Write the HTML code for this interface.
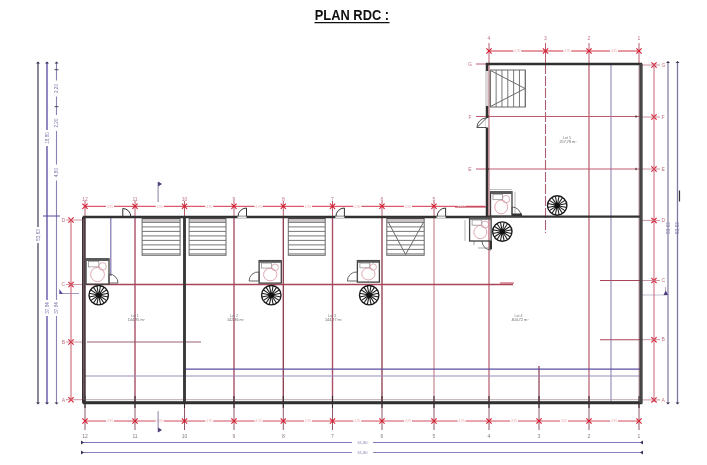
<!DOCTYPE html>
<html><head><meta charset="utf-8"><style>
html,body{margin:0;padding:0;background:#fff;width:707px;height:465px;overflow:hidden}
svg{position:absolute;left:0;top:0}
</style></head><body>
<svg width="707" height="465" viewBox="0 0 707 465" font-family="Liberation Sans, sans-serif">
<g style="filter:blur(0.3px)">
<line x1="38" y1="62" x2="38" y2="403.5" stroke="#5a5670" stroke-width="1.4" />
<line x1="47" y1="62" x2="47" y2="403.5" stroke="#5848a0" stroke-width="1.3" />
<line x1="56.5" y1="62" x2="56.5" y2="403.5" stroke="#8a80b4" stroke-width="1.1" />
<path d="M36 63.5 L38 61.5 L40 63.5 Z" fill="#3a3050"/>
<path d="M36 402.5 L38 404.5 L40 402.5 Z" fill="#3a3050"/>
<path d="M45 63.5 L47 61.5 L49 63.5 Z" fill="#3a3050"/>
<path d="M45 402.5 L47 404.5 L49 402.5 Z" fill="#3a3050"/>
<path d="M54.5 63.5 L56.5 61.5 L58.5 63.5 Z" fill="#3a3050"/>
<path d="M54.5 402.5 L56.5 404.5 L58.5 402.5 Z" fill="#3a3050"/>
<line x1="43" y1="216" x2="60" y2="216" stroke="#5848a0" stroke-width="1" />
<line x1="54.5" y1="69.7" x2="58.5" y2="69.7" stroke="#4a4060" stroke-width="1" />
<line x1="54.5" y1="106.7" x2="58.5" y2="106.7" stroke="#4a4060" stroke-width="1" />
<line x1="54.5" y1="128.3" x2="58.5" y2="128.3" stroke="#4a4060" stroke-width="1" />
<rect x="35.5" y="227" width="5" height="16" fill="#fff"/>
<text x="38" y="235" font-size="4.6" fill="#7a70a8" text-anchor="middle" transform="rotate(-90 38 235)" dominant-baseline="central">53,63</text>
<rect x="44.5" y="130" width="5" height="16" fill="#fff"/>
<text x="47" y="138" font-size="4.6" fill="#7a70a8" text-anchor="middle" transform="rotate(-90 47 138)" dominant-baseline="central">18,80</text>
<rect x="44.5" y="300" width="5" height="16" fill="#fff"/>
<text x="47" y="308" font-size="4.6" fill="#7a70a8" text-anchor="middle" transform="rotate(-90 47 308)" dominant-baseline="central">37,84</text>
<rect x="54.0" y="300" width="5" height="16" fill="#fff"/>
<text x="56.5" y="308" font-size="4.6" fill="#7a70a8" text-anchor="middle" transform="rotate(-90 56.5 308)" dominant-baseline="central">37,84</text>
<rect x="54.0" y="164.5" width="5" height="16" fill="#fff"/>
<text x="56.5" y="172.5" font-size="4.6" fill="#7a70a8" text-anchor="middle" transform="rotate(-90 56.5 172.5)" dominant-baseline="central">4,80</text>
<rect x="54.0" y="80.5" width="5" height="16" fill="#fff"/>
<text x="56.5" y="88.5" font-size="4.6" fill="#7a70a8" text-anchor="middle" transform="rotate(-90 56.5 88.5)" dominant-baseline="central">2,20</text>
<rect x="54.0" y="115" width="5" height="16" fill="#fff"/>
<text x="56.5" y="123" font-size="4.6" fill="#7a70a8" text-anchor="middle" transform="rotate(-90 56.5 123)" dominant-baseline="central">2,20</text>
<rect x="665.5" y="220" width="5" height="16" fill="#fff"/>
<text x="668" y="228" font-size="4.6" fill="#7a70a8" text-anchor="middle" transform="rotate(-90 668 228)" dominant-baseline="central">53,63</text>
<rect x="675.0" y="220" width="5" height="16" fill="#fff"/>
<text x="677.5" y="228" font-size="4.6" fill="#7a70a8" text-anchor="middle" transform="rotate(-90 677.5 228)" dominant-baseline="central">53,63</text>
<line x1="59.5" y1="293.5" x2="79" y2="293.5" stroke="#8a80b0" stroke-width="0.8" />
<path d="M59.3 289 L59.3 294 L63 294 Z" fill="#5848a0"/>
<line x1="668" y1="62" x2="668" y2="403.5" stroke="#8a84a8" stroke-width="1.3" />
<line x1="677.5" y1="62" x2="677.5" y2="403.5" stroke="#8078a4" stroke-width="1.3" />
<path d="M666 63 L668 61 L670 63 Z" fill="#3a3050"/>
<path d="M666 402.5 L668 404.5 L670 402.5 Z" fill="#3a3050"/>
<path d="M675.5 63 L677.5 61 L679.5 63 Z" fill="#3a3050"/>
<path d="M675.5 402.5 L677.5 404.5 L679.5 402.5 Z" fill="#3a3050"/>
<line x1="679.5" y1="190.5" x2="679.5" y2="201.5" stroke="#333" stroke-width="1.2" />
<line x1="665.5" y1="287" x2="665.5" y2="294" stroke="#a098b8" stroke-width="0.8" />
<line x1="641" y1="295" x2="668" y2="295" stroke="#a8a0b8" stroke-width="0.7" />
<path d="M663.5 295 L665.8 290.5 L668 295 Z" fill="#4a3a78"/>
<line x1="654" y1="63" x2="654" y2="402" stroke="#c86474" stroke-width="1" />
<line x1="651.4" y1="62.4" x2="656.6" y2="67.6" stroke="#d81c30" stroke-width="1.1" />
<line x1="651.4" y1="67.6" x2="656.6" y2="62.4" stroke="#d81c30" stroke-width="1.1" />
<line x1="641" y1="65" x2="660" y2="65" stroke="#c07a88" stroke-width="0.8" />
<text x="661.5" y="66.7" font-size="5" fill="#c07080" text-anchor="start" >G</text>
<line x1="651.4" y1="114.4" x2="656.6" y2="119.6" stroke="#d81c30" stroke-width="1.1" />
<line x1="651.4" y1="119.6" x2="656.6" y2="114.4" stroke="#d81c30" stroke-width="1.1" />
<line x1="641" y1="117" x2="660" y2="117" stroke="#c07a88" stroke-width="0.8" />
<text x="661.5" y="118.7" font-size="5" fill="#c07080" text-anchor="start" >F</text>
<line x1="651.4" y1="166.4" x2="656.6" y2="171.6" stroke="#d81c30" stroke-width="1.1" />
<line x1="651.4" y1="171.6" x2="656.6" y2="166.4" stroke="#d81c30" stroke-width="1.1" />
<line x1="641" y1="169" x2="660" y2="169" stroke="#c07a88" stroke-width="0.8" />
<text x="661.5" y="170.7" font-size="5" fill="#c07080" text-anchor="start" >E</text>
<line x1="651.4" y1="217.8" x2="656.6" y2="223.0" stroke="#d81c30" stroke-width="1.1" />
<line x1="651.4" y1="223.0" x2="656.6" y2="217.8" stroke="#d81c30" stroke-width="1.1" />
<line x1="641" y1="220.4" x2="660" y2="220.4" stroke="#c07a88" stroke-width="0.8" />
<text x="661.5" y="222.1" font-size="5" fill="#c07080" text-anchor="start" >D</text>
<line x1="651.4" y1="277.9" x2="656.6" y2="283.1" stroke="#d81c30" stroke-width="1.1" />
<line x1="651.4" y1="283.1" x2="656.6" y2="277.9" stroke="#d81c30" stroke-width="1.1" />
<line x1="641" y1="280.5" x2="660" y2="280.5" stroke="#c07a88" stroke-width="0.8" />
<text x="661.5" y="282.2" font-size="5" fill="#c07080" text-anchor="start" >C</text>
<line x1="651.4" y1="337.09999999999997" x2="656.6" y2="342.3" stroke="#d81c30" stroke-width="1.1" />
<line x1="651.4" y1="342.3" x2="656.6" y2="337.09999999999997" stroke="#d81c30" stroke-width="1.1" />
<line x1="641" y1="339.7" x2="660" y2="339.7" stroke="#c07a88" stroke-width="0.8" />
<text x="661.5" y="341.4" font-size="5" fill="#c07080" text-anchor="start" >B</text>
<line x1="651.4" y1="397.29999999999995" x2="656.6" y2="402.5" stroke="#d81c30" stroke-width="1.1" />
<line x1="651.4" y1="402.5" x2="656.6" y2="397.29999999999995" stroke="#d81c30" stroke-width="1.1" />
<line x1="641" y1="399.9" x2="660" y2="399.9" stroke="#c07a88" stroke-width="0.8" />
<text x="661.5" y="401.59999999999997" font-size="5" fill="#c07080" text-anchor="start" >A</text>
<line x1="82" y1="442.5" x2="642" y2="442.5" stroke="#8078b8" stroke-width="1" />
<path d="M81 440.5 L84 442.5 L81 444.5 Z" fill="#3a3060"/>
<path d="M643 440.5 L640 442.5 L643 444.5 Z" fill="#3a3060"/>
<line x1="82" y1="452.5" x2="642" y2="452.5" stroke="#8a82bc" stroke-width="1" />
<path d="M81 450.5 L84 452.5 L81 454.5 Z" fill="#3a3060"/>
<path d="M643 450.5 L640 452.5 L643 454.5 Z" fill="#3a3060"/>
<rect x="352" y="440.0" width="21" height="5" fill="#fff"/>
<text x="362.5" y="443.9" font-size="4" fill="#8a80b0" text-anchor="middle" >61,80</text>
<rect x="352" y="450.0" width="21" height="5" fill="#fff"/>
<text x="362.5" y="453.9" font-size="4" fill="#8a80b0" text-anchor="middle" >61,80</text>
<line x1="85" y1="421" x2="639" y2="421" stroke="#d24c5c" stroke-width="1" />
<line x1="85" y1="402" x2="85" y2="430" stroke="#905868" stroke-width="1" />
<line x1="82.4" y1="418.4" x2="87.6" y2="423.6" stroke="#d81c30" stroke-width="1.1" />
<line x1="82.4" y1="423.6" x2="87.6" y2="418.4" stroke="#d81c30" stroke-width="1.1" />
<text x="85" y="437.5" font-size="5" fill="#8a7a80" text-anchor="middle" >12</text>
<line x1="135" y1="402" x2="135" y2="430" stroke="#905868" stroke-width="1" />
<line x1="132.4" y1="418.4" x2="137.6" y2="423.6" stroke="#d81c30" stroke-width="1.1" />
<line x1="132.4" y1="423.6" x2="137.6" y2="418.4" stroke="#d81c30" stroke-width="1.1" />
<text x="135" y="437.5" font-size="5" fill="#8a7a80" text-anchor="middle" >11</text>
<line x1="184.5" y1="402" x2="184.5" y2="430" stroke="#905868" stroke-width="1" />
<line x1="181.9" y1="418.4" x2="187.1" y2="423.6" stroke="#d81c30" stroke-width="1.1" />
<line x1="181.9" y1="423.6" x2="187.1" y2="418.4" stroke="#d81c30" stroke-width="1.1" />
<text x="184.5" y="437.5" font-size="5" fill="#8a7a80" text-anchor="middle" >10</text>
<line x1="234" y1="402" x2="234" y2="430" stroke="#905868" stroke-width="1" />
<line x1="231.4" y1="418.4" x2="236.6" y2="423.6" stroke="#d81c30" stroke-width="1.1" />
<line x1="231.4" y1="423.6" x2="236.6" y2="418.4" stroke="#d81c30" stroke-width="1.1" />
<text x="234" y="437.5" font-size="5" fill="#8a7a80" text-anchor="middle" >9</text>
<line x1="283.3" y1="402" x2="283.3" y2="430" stroke="#905868" stroke-width="1" />
<line x1="280.7" y1="418.4" x2="285.90000000000003" y2="423.6" stroke="#d81c30" stroke-width="1.1" />
<line x1="280.7" y1="423.6" x2="285.90000000000003" y2="418.4" stroke="#d81c30" stroke-width="1.1" />
<text x="283.3" y="437.5" font-size="5" fill="#8a7a80" text-anchor="middle" >8</text>
<line x1="332.5" y1="402" x2="332.5" y2="430" stroke="#905868" stroke-width="1" />
<line x1="329.9" y1="418.4" x2="335.1" y2="423.6" stroke="#d81c30" stroke-width="1.1" />
<line x1="329.9" y1="423.6" x2="335.1" y2="418.4" stroke="#d81c30" stroke-width="1.1" />
<text x="332.5" y="437.5" font-size="5" fill="#8a7a80" text-anchor="middle" >7</text>
<line x1="382" y1="402" x2="382" y2="430" stroke="#905868" stroke-width="1" />
<line x1="379.4" y1="418.4" x2="384.6" y2="423.6" stroke="#d81c30" stroke-width="1.1" />
<line x1="379.4" y1="423.6" x2="384.6" y2="418.4" stroke="#d81c30" stroke-width="1.1" />
<text x="382" y="437.5" font-size="5" fill="#8a7a80" text-anchor="middle" >6</text>
<line x1="434" y1="402" x2="434" y2="430" stroke="#905868" stroke-width="1" />
<line x1="431.4" y1="418.4" x2="436.6" y2="423.6" stroke="#d81c30" stroke-width="1.1" />
<line x1="431.4" y1="423.6" x2="436.6" y2="418.4" stroke="#d81c30" stroke-width="1.1" />
<text x="434" y="437.5" font-size="5" fill="#8a7a80" text-anchor="middle" >5</text>
<line x1="489" y1="402" x2="489" y2="430" stroke="#905868" stroke-width="1" />
<line x1="486.4" y1="418.4" x2="491.6" y2="423.6" stroke="#d81c30" stroke-width="1.1" />
<line x1="486.4" y1="423.6" x2="491.6" y2="418.4" stroke="#d81c30" stroke-width="1.1" />
<text x="489" y="437.5" font-size="5" fill="#8a7a80" text-anchor="middle" >4</text>
<line x1="539" y1="402" x2="539" y2="430" stroke="#905868" stroke-width="1" />
<line x1="536.4" y1="418.4" x2="541.6" y2="423.6" stroke="#d81c30" stroke-width="1.1" />
<line x1="536.4" y1="423.6" x2="541.6" y2="418.4" stroke="#d81c30" stroke-width="1.1" />
<text x="539" y="437.5" font-size="5" fill="#8a7a80" text-anchor="middle" >3</text>
<line x1="589" y1="402" x2="589" y2="430" stroke="#905868" stroke-width="1" />
<line x1="586.4" y1="418.4" x2="591.6" y2="423.6" stroke="#d81c30" stroke-width="1.1" />
<line x1="586.4" y1="423.6" x2="591.6" y2="418.4" stroke="#d81c30" stroke-width="1.1" />
<text x="589" y="437.5" font-size="5" fill="#8a7a80" text-anchor="middle" >2</text>
<line x1="639" y1="402" x2="639" y2="430" stroke="#905868" stroke-width="1" />
<line x1="636.4" y1="418.4" x2="641.6" y2="423.6" stroke="#d81c30" stroke-width="1.1" />
<line x1="636.4" y1="423.6" x2="641.6" y2="418.4" stroke="#d81c30" stroke-width="1.1" />
<text x="639" y="437.5" font-size="5" fill="#8a7a80" text-anchor="middle" >1</text>
<rect x="106.0" y="419.5" width="8" height="3" fill="#fff"/>
<text x="110.0" y="422.3" font-size="3.2" fill="#e8a8b0" text-anchor="middle" >4,95</text>
<rect x="155.75" y="419.5" width="8" height="3" fill="#fff"/>
<text x="159.75" y="422.3" font-size="3.2" fill="#e8a8b0" text-anchor="middle" >4,95</text>
<rect x="205.25" y="419.5" width="8" height="3" fill="#fff"/>
<text x="209.25" y="422.3" font-size="3.2" fill="#e8a8b0" text-anchor="middle" >4,95</text>
<rect x="254.64999999999998" y="419.5" width="8" height="3" fill="#fff"/>
<text x="258.65" y="422.3" font-size="3.2" fill="#e8a8b0" text-anchor="middle" >4,95</text>
<rect x="303.9" y="419.5" width="8" height="3" fill="#fff"/>
<text x="307.9" y="422.3" font-size="3.2" fill="#e8a8b0" text-anchor="middle" >4,95</text>
<rect x="353.25" y="419.5" width="8" height="3" fill="#fff"/>
<text x="357.25" y="422.3" font-size="3.2" fill="#e8a8b0" text-anchor="middle" >4,95</text>
<rect x="404.0" y="419.5" width="8" height="3" fill="#fff"/>
<text x="408.0" y="422.3" font-size="3.2" fill="#e8a8b0" text-anchor="middle" >4,95</text>
<rect x="457.5" y="419.5" width="8" height="3" fill="#fff"/>
<text x="461.5" y="422.3" font-size="3.2" fill="#e8a8b0" text-anchor="middle" >4,95</text>
<rect x="510.0" y="419.5" width="8" height="3" fill="#fff"/>
<text x="514.0" y="422.3" font-size="3.2" fill="#e8a8b0" text-anchor="middle" >4,95</text>
<rect x="560.0" y="419.5" width="8" height="3" fill="#fff"/>
<text x="564.0" y="422.3" font-size="3.2" fill="#e8a8b0" text-anchor="middle" >4,95</text>
<rect x="610.0" y="419.5" width="8" height="3" fill="#fff"/>
<text x="614.0" y="422.3" font-size="3.2" fill="#e8a8b0" text-anchor="middle" >4,95</text>
<line x1="158.1" y1="411.2" x2="158.1" y2="432" stroke="#8a80a8" stroke-width="1" />
<path d="M158.1 432.5 L162 430 L158.1 427.5 Z" fill="#4a3a78"/>
<line x1="85" y1="206.3" x2="485" y2="206.3" stroke="#d03446" stroke-width="1" />
<line x1="85" y1="201" x2="85" y2="217" stroke="#b04a5e" stroke-width="0.9" />
<line x1="82.4" y1="203.70000000000002" x2="87.6" y2="208.9" stroke="#d81c30" stroke-width="1.1" />
<line x1="82.4" y1="208.9" x2="87.6" y2="203.70000000000002" stroke="#d81c30" stroke-width="1.1" />
<text x="85" y="200.5" font-size="5" fill="#c07080" text-anchor="middle" >12</text>
<line x1="135" y1="201" x2="135" y2="217" stroke="#b04a5e" stroke-width="0.9" />
<line x1="132.4" y1="203.70000000000002" x2="137.6" y2="208.9" stroke="#d81c30" stroke-width="1.1" />
<line x1="132.4" y1="208.9" x2="137.6" y2="203.70000000000002" stroke="#d81c30" stroke-width="1.1" />
<text x="135" y="200.5" font-size="5" fill="#c07080" text-anchor="middle" >11</text>
<line x1="184.5" y1="201" x2="184.5" y2="217" stroke="#b04a5e" stroke-width="0.9" />
<line x1="181.9" y1="203.70000000000002" x2="187.1" y2="208.9" stroke="#d81c30" stroke-width="1.1" />
<line x1="181.9" y1="208.9" x2="187.1" y2="203.70000000000002" stroke="#d81c30" stroke-width="1.1" />
<text x="184.5" y="200.5" font-size="5" fill="#c07080" text-anchor="middle" >10</text>
<line x1="234" y1="201" x2="234" y2="217" stroke="#b04a5e" stroke-width="0.9" />
<line x1="231.4" y1="203.70000000000002" x2="236.6" y2="208.9" stroke="#d81c30" stroke-width="1.1" />
<line x1="231.4" y1="208.9" x2="236.6" y2="203.70000000000002" stroke="#d81c30" stroke-width="1.1" />
<text x="234" y="200.5" font-size="5" fill="#c07080" text-anchor="middle" >9</text>
<line x1="283.3" y1="201" x2="283.3" y2="217" stroke="#b04a5e" stroke-width="0.9" />
<line x1="280.7" y1="203.70000000000002" x2="285.90000000000003" y2="208.9" stroke="#d81c30" stroke-width="1.1" />
<line x1="280.7" y1="208.9" x2="285.90000000000003" y2="203.70000000000002" stroke="#d81c30" stroke-width="1.1" />
<text x="283.3" y="200.5" font-size="5" fill="#c07080" text-anchor="middle" >8</text>
<line x1="332.5" y1="201" x2="332.5" y2="217" stroke="#b04a5e" stroke-width="0.9" />
<line x1="329.9" y1="203.70000000000002" x2="335.1" y2="208.9" stroke="#d81c30" stroke-width="1.1" />
<line x1="329.9" y1="208.9" x2="335.1" y2="203.70000000000002" stroke="#d81c30" stroke-width="1.1" />
<text x="332.5" y="200.5" font-size="5" fill="#c07080" text-anchor="middle" >7</text>
<line x1="382" y1="201" x2="382" y2="217" stroke="#b04a5e" stroke-width="0.9" />
<line x1="379.4" y1="203.70000000000002" x2="384.6" y2="208.9" stroke="#d81c30" stroke-width="1.1" />
<line x1="379.4" y1="208.9" x2="384.6" y2="203.70000000000002" stroke="#d81c30" stroke-width="1.1" />
<text x="382" y="200.5" font-size="5" fill="#c07080" text-anchor="middle" >6</text>
<line x1="434" y1="201" x2="434" y2="217" stroke="#b04a5e" stroke-width="0.9" />
<line x1="431.4" y1="203.70000000000002" x2="436.6" y2="208.9" stroke="#d81c30" stroke-width="1.1" />
<line x1="431.4" y1="208.9" x2="436.6" y2="203.70000000000002" stroke="#d81c30" stroke-width="1.1" />
<text x="434" y="200.5" font-size="5" fill="#c07080" text-anchor="middle" >5</text>
<rect x="106.0" y="205" width="8" height="3" fill="#fff"/>
<text x="110.0" y="207.5" font-size="3.2" fill="#e8a8b0" text-anchor="middle" >4,95</text>
<rect x="155.75" y="205" width="8" height="3" fill="#fff"/>
<text x="159.75" y="207.5" font-size="3.2" fill="#e8a8b0" text-anchor="middle" >4,95</text>
<rect x="205.25" y="205" width="8" height="3" fill="#fff"/>
<text x="209.25" y="207.5" font-size="3.2" fill="#e8a8b0" text-anchor="middle" >4,95</text>
<rect x="254.64999999999998" y="205" width="8" height="3" fill="#fff"/>
<text x="258.65" y="207.5" font-size="3.2" fill="#e8a8b0" text-anchor="middle" >4,95</text>
<rect x="303.9" y="205" width="8" height="3" fill="#fff"/>
<text x="307.9" y="207.5" font-size="3.2" fill="#e8a8b0" text-anchor="middle" >4,95</text>
<rect x="353.25" y="205" width="8" height="3" fill="#fff"/>
<text x="357.25" y="207.5" font-size="3.2" fill="#e8a8b0" text-anchor="middle" >4,95</text>
<rect x="404.0" y="205" width="8" height="3" fill="#fff"/>
<text x="408.0" y="207.5" font-size="3.2" fill="#e8a8b0" text-anchor="middle" >4,95</text>
<rect x="457.5" y="205" width="8" height="3" fill="#fff"/>
<text x="461.5" y="207.5" font-size="3.2" fill="#e8a8b0" text-anchor="middle" >4,95</text>
<line x1="489" y1="51" x2="639" y2="51" stroke="#d03446" stroke-width="1" />
<line x1="489" y1="43" x2="489" y2="64" stroke="#b04a5e" stroke-width="0.9" />
<line x1="486.4" y1="48.4" x2="491.6" y2="53.6" stroke="#d81c30" stroke-width="1.1" />
<line x1="486.4" y1="53.6" x2="491.6" y2="48.4" stroke="#d81c30" stroke-width="1.1" />
<text x="489" y="40" font-size="5" fill="#c07080" text-anchor="middle" >4</text>
<line x1="545.5" y1="43" x2="545.5" y2="64" stroke="#b04a5e" stroke-width="0.9" />
<line x1="542.9" y1="48.4" x2="548.1" y2="53.6" stroke="#d81c30" stroke-width="1.1" />
<line x1="542.9" y1="53.6" x2="548.1" y2="48.4" stroke="#d81c30" stroke-width="1.1" />
<text x="545.5" y="40" font-size="5" fill="#c07080" text-anchor="middle" >3</text>
<line x1="589" y1="43" x2="589" y2="64" stroke="#b04a5e" stroke-width="0.9" />
<line x1="586.4" y1="48.4" x2="591.6" y2="53.6" stroke="#d81c30" stroke-width="1.1" />
<line x1="586.4" y1="53.6" x2="591.6" y2="48.4" stroke="#d81c30" stroke-width="1.1" />
<text x="589" y="40" font-size="5" fill="#c07080" text-anchor="middle" >2</text>
<line x1="639" y1="43" x2="639" y2="64" stroke="#b04a5e" stroke-width="0.9" />
<line x1="636.4" y1="48.4" x2="641.6" y2="53.6" stroke="#d81c30" stroke-width="1.1" />
<line x1="636.4" y1="53.6" x2="641.6" y2="48.4" stroke="#d81c30" stroke-width="1.1" />
<text x="639" y="40" font-size="5" fill="#c07080" text-anchor="middle" >1</text>
<rect x="513.25" y="49.5" width="8" height="3" fill="#fff"/>
<text x="517.25" y="52.2" font-size="3.2" fill="#e8a8b0" text-anchor="middle" >4,95</text>
<rect x="563.25" y="49.5" width="8" height="3" fill="#fff"/>
<text x="567.25" y="52.2" font-size="3.2" fill="#e8a8b0" text-anchor="middle" >4,95</text>
<rect x="610.0" y="49.5" width="8" height="3" fill="#fff"/>
<text x="614.0" y="52.2" font-size="3.2" fill="#e8a8b0" text-anchor="middle" >4,95</text>
<line x1="158.1" y1="182" x2="158.1" y2="202" stroke="#8a80a8" stroke-width="1" />
<path d="M158.1 181.5 L162 184 L158.1 186.5 Z" fill="#4a3a78"/>
<line x1="71" y1="220" x2="71" y2="400" stroke="#c85a6c" stroke-width="1" />
<line x1="68.4" y1="217.4" x2="73.6" y2="222.6" stroke="#d81c30" stroke-width="1.1" />
<line x1="68.4" y1="222.6" x2="73.6" y2="217.4" stroke="#d81c30" stroke-width="1.1" />
<line x1="66" y1="220" x2="84" y2="220" stroke="#c07a88" stroke-width="0.8" />
<text x="65" y="221.8" font-size="5" fill="#c07080" text-anchor="end" >D</text>
<line x1="68.4" y1="281.9" x2="73.6" y2="287.1" stroke="#d81c30" stroke-width="1.1" />
<line x1="68.4" y1="287.1" x2="73.6" y2="281.9" stroke="#d81c30" stroke-width="1.1" />
<line x1="66" y1="284.5" x2="84" y2="284.5" stroke="#c07a88" stroke-width="0.8" />
<text x="65" y="286.3" font-size="5" fill="#c07080" text-anchor="end" >C</text>
<line x1="68.4" y1="339.4" x2="73.6" y2="344.6" stroke="#d81c30" stroke-width="1.1" />
<line x1="68.4" y1="344.6" x2="73.6" y2="339.4" stroke="#d81c30" stroke-width="1.1" />
<line x1="66" y1="342" x2="84" y2="342" stroke="#c07a88" stroke-width="0.8" />
<text x="65" y="343.8" font-size="5" fill="#c07080" text-anchor="end" >B</text>
<line x1="68.4" y1="397.09999999999997" x2="73.6" y2="402.3" stroke="#d81c30" stroke-width="1.1" />
<line x1="68.4" y1="402.3" x2="73.6" y2="397.09999999999997" stroke="#d81c30" stroke-width="1.1" />
<line x1="66" y1="399.7" x2="84" y2="399.7" stroke="#c07a88" stroke-width="0.8" />
<text x="65" y="401.5" font-size="5" fill="#c07080" text-anchor="end" >A</text>
<text x="470" y="65.8" font-size="5" fill="#c07080" text-anchor="middle" >G</text>
<text x="470" y="118.8" font-size="5" fill="#c07080" text-anchor="middle" >F</text>
<text x="470" y="170.8" font-size="5" fill="#c07080" text-anchor="middle" >E</text>
<line x1="135" y1="217" x2="135" y2="402" stroke="#a85068" stroke-width="1.4" />
<line x1="234" y1="217" x2="234" y2="402" stroke="#a85068" stroke-width="1.4" />
<line x1="332.5" y1="217" x2="332.5" y2="402" stroke="#a85068" stroke-width="1.4" />
<line x1="434" y1="217" x2="434" y2="402" stroke="#c07a88" stroke-width="1.1" />
<line x1="283.3" y1="217" x2="283.3" y2="402" stroke="#8a3848" stroke-width="1.3" />
<line x1="382" y1="217" x2="382" y2="402" stroke="#8a3848" stroke-width="1.3" />
<line x1="489" y1="217" x2="489" y2="402" stroke="#b04a5e" stroke-width="1.1" />
<line x1="539" y1="366" x2="539" y2="402" stroke="#8a3848" stroke-width="1.2" />
<line x1="589" y1="64" x2="589" y2="402" stroke="#b04a5e" stroke-width="1.1" />
<line x1="545.5" y1="64" x2="545.5" y2="233" stroke="#a86070" stroke-width="1.1" stroke-dasharray="10 2"/>
<line x1="611" y1="64" x2="611" y2="402" stroke="#9088b8" stroke-width="1.1" />
<line x1="639" y1="64" x2="639" y2="402" stroke="#c07a88" stroke-width="0.8" />
<line x1="86" y1="284.5" x2="513" y2="284.5" stroke="#a84658" stroke-width="1.3" />
<line x1="476" y1="64" x2="487" y2="64" stroke="#c05a70" stroke-width="1" />
<line x1="476" y1="116.5" x2="641" y2="116.5" stroke="#c05a70" stroke-width="1.1" />
<line x1="476" y1="169" x2="641" y2="169" stroke="#c05a70" stroke-width="1.1" />
<line x1="489" y1="64" x2="489" y2="217" stroke="#c05a6c" stroke-width="1" />
<line x1="488" y1="115.3" x2="488" y2="117.7" stroke="#222" stroke-width="1" />
<line x1="636" y1="115.3" x2="636" y2="117.7" stroke="#222" stroke-width="1" />
<line x1="488" y1="167.8" x2="488" y2="170.2" stroke="#222" stroke-width="1" />
<line x1="636" y1="167.8" x2="636" y2="170.2" stroke="#222" stroke-width="1" />
<line x1="600" y1="280.5" x2="641" y2="280.5" stroke="#a84658" stroke-width="1.1" />
<line x1="600" y1="339.7" x2="641" y2="339.7" stroke="#a84658" stroke-width="1.1" />
<line x1="87" y1="342" x2="201" y2="342" stroke="#9a6070" stroke-width="1.1" />
<line x1="82" y1="376" x2="641" y2="376" stroke="#9a90b8" stroke-width="1.1" />
<line x1="185" y1="369.2" x2="641" y2="369.2" stroke="#5a4ca0" stroke-width="1.3" />
<line x1="86" y1="399.7" x2="639" y2="399.7" stroke="#a89098" stroke-width="0.8" />
<line x1="455" y1="207" x2="487" y2="207" stroke="#c04050" stroke-width="1.1" />
<line x1="1" y1="284.5" x2="30" y2="284.5" stroke="#ffffff" stroke-width="0" />
<line x1="500" y1="283" x2="514" y2="283" stroke="#c04050" stroke-width="1" />
<line x1="474" y1="241" x2="474" y2="245" stroke="#777" stroke-width="0.7" />
<line x1="110.8" y1="218" x2="110.8" y2="276" stroke="#8070b0" stroke-width="1.2" />
<line x1="489" y1="189.5" x2="512" y2="189.5" stroke="#999" stroke-width="0.6" />
<line x1="515" y1="192" x2="515" y2="214" stroke="#888" stroke-width="0.6" />
<line x1="465" y1="220" x2="465" y2="241" stroke="#888" stroke-width="0.6" />
<line x1="478" y1="248" x2="490" y2="248" stroke="#777" stroke-width="0.6" />
<line x1="85" y1="396" x2="85" y2="408" stroke="#3a2a30" stroke-width="1.1" />
<line x1="135" y1="396" x2="135" y2="408" stroke="#3a2a30" stroke-width="1.1" />
<line x1="184.5" y1="396" x2="184.5" y2="408" stroke="#3a2a30" stroke-width="1.1" />
<line x1="234" y1="396" x2="234" y2="408" stroke="#3a2a30" stroke-width="1.1" />
<line x1="283.3" y1="396" x2="283.3" y2="408" stroke="#3a2a30" stroke-width="1.1" />
<line x1="332.5" y1="396" x2="332.5" y2="408" stroke="#3a2a30" stroke-width="1.1" />
<line x1="382" y1="396" x2="382" y2="408" stroke="#3a2a30" stroke-width="1.1" />
<line x1="434" y1="396" x2="434" y2="408" stroke="#3a2a30" stroke-width="1.1" />
<line x1="489" y1="396" x2="489" y2="408" stroke="#3a2a30" stroke-width="1.1" />
<line x1="539" y1="396" x2="539" y2="408" stroke="#3a2a30" stroke-width="1.1" />
<line x1="589" y1="396" x2="589" y2="408" stroke="#3a2a30" stroke-width="1.1" />
<line x1="639" y1="396" x2="639" y2="408" stroke="#3a2a30" stroke-width="1.1" />
<path d="M84 403 L84 217 L487 217 L487 64 L641 64 L641 403 Z" fill="none" stroke="#303030" stroke-width="2.5"/>
<line x1="82.8" y1="402.5" x2="642.2" y2="402.5" stroke="#303030" stroke-width="2.5" />
<line x1="487" y1="216.6" x2="641" y2="216.6" stroke="#333" stroke-width="2.2" />
<line x1="641" y1="64" x2="641" y2="403" stroke="#454545" stroke-width="3" />
<line x1="184.5" y1="217" x2="184.5" y2="402" stroke="#383838" stroke-width="2.9" />
<line x1="83.8" y1="217" x2="83.8" y2="403" stroke="#3a3035" stroke-width="3.6" />
<line x1="83.8" y1="219" x2="83.8" y2="400" stroke="#8a6a74" stroke-width="0.9" />
<line x1="487" y1="71" x2="487" y2="106" stroke="#ffffff" stroke-width="2.6" />
<line x1="487" y1="71" x2="487" y2="106" stroke="#b0a0a0" stroke-width="0.8" />
<line x1="487" y1="118" x2="487" y2="127.5" stroke="#ffffff" stroke-width="2.6" />
<rect x="142.1" y="218.3" width="38.0" height="3.6" fill="#9a9090" opacity="0.55"/>
<rect x="142.1" y="218.3" width="38.0" height="37.0" stroke="#6a6a6a" stroke-width="1" fill="none" />
<line x1="142.1" y1="218.3" x2="180.1" y2="218.3" stroke="#444" stroke-width="1.3" />
<line x1="142.1" y1="222.4" x2="180.1" y2="222.4" stroke="#6a6a6a" stroke-width="0.9" />
<line x1="142.1" y1="226.9" x2="180.1" y2="226.9" stroke="#6a6a6a" stroke-width="0.9" />
<line x1="142.1" y1="231.4" x2="180.1" y2="231.4" stroke="#6a6a6a" stroke-width="0.9" />
<line x1="142.1" y1="235.9" x2="180.1" y2="235.9" stroke="#6a6a6a" stroke-width="0.9" />
<line x1="142.1" y1="240.4" x2="180.1" y2="240.4" stroke="#6a6a6a" stroke-width="0.9" />
<line x1="142.1" y1="244.9" x2="180.1" y2="244.9" stroke="#6a6a6a" stroke-width="0.9" />
<line x1="142.1" y1="249.4" x2="180.1" y2="249.4" stroke="#6a6a6a" stroke-width="0.9" />
<line x1="142.1" y1="253.9" x2="180.1" y2="253.9" stroke="#6a6a6a" stroke-width="0.9" />
<rect x="189.1" y="218.3" width="36.900000000000006" height="3.6" fill="#9a9090" opacity="0.55"/>
<rect x="189.1" y="218.3" width="36.900000000000006" height="37.0" stroke="#6a6a6a" stroke-width="1" fill="none" />
<line x1="189.1" y1="218.3" x2="226" y2="218.3" stroke="#444" stroke-width="1.3" />
<line x1="189.1" y1="222.4" x2="226" y2="222.4" stroke="#6a6a6a" stroke-width="0.9" />
<line x1="189.1" y1="226.9" x2="226" y2="226.9" stroke="#6a6a6a" stroke-width="0.9" />
<line x1="189.1" y1="231.4" x2="226" y2="231.4" stroke="#6a6a6a" stroke-width="0.9" />
<line x1="189.1" y1="235.9" x2="226" y2="235.9" stroke="#6a6a6a" stroke-width="0.9" />
<line x1="189.1" y1="240.4" x2="226" y2="240.4" stroke="#6a6a6a" stroke-width="0.9" />
<line x1="189.1" y1="244.9" x2="226" y2="244.9" stroke="#6a6a6a" stroke-width="0.9" />
<line x1="189.1" y1="249.4" x2="226" y2="249.4" stroke="#6a6a6a" stroke-width="0.9" />
<line x1="189.1" y1="253.9" x2="226" y2="253.9" stroke="#6a6a6a" stroke-width="0.9" />
<rect x="288.3" y="218.3" width="36.89999999999998" height="3.6" fill="#9a9090" opacity="0.55"/>
<rect x="288.3" y="218.3" width="36.89999999999998" height="37.0" stroke="#6a6a6a" stroke-width="1" fill="none" />
<line x1="288.3" y1="218.3" x2="325.2" y2="218.3" stroke="#444" stroke-width="1.3" />
<line x1="288.3" y1="222.4" x2="325.2" y2="222.4" stroke="#6a6a6a" stroke-width="0.9" />
<line x1="288.3" y1="226.9" x2="325.2" y2="226.9" stroke="#6a6a6a" stroke-width="0.9" />
<line x1="288.3" y1="231.4" x2="325.2" y2="231.4" stroke="#6a6a6a" stroke-width="0.9" />
<line x1="288.3" y1="235.9" x2="325.2" y2="235.9" stroke="#6a6a6a" stroke-width="0.9" />
<line x1="288.3" y1="240.4" x2="325.2" y2="240.4" stroke="#6a6a6a" stroke-width="0.9" />
<line x1="288.3" y1="244.9" x2="325.2" y2="244.9" stroke="#6a6a6a" stroke-width="0.9" />
<line x1="288.3" y1="249.4" x2="325.2" y2="249.4" stroke="#6a6a6a" stroke-width="0.9" />
<line x1="288.3" y1="253.9" x2="325.2" y2="253.9" stroke="#6a6a6a" stroke-width="0.9" />
<rect x="386.8" y="218.3" width="37.39999999999998" height="3.6" fill="#9a9090" opacity="0.55"/>
<rect x="386.8" y="218.3" width="37.39999999999998" height="37.0" stroke="#6a6a6a" stroke-width="1" fill="none" />
<line x1="386.8" y1="218.3" x2="424.2" y2="218.3" stroke="#444" stroke-width="1.3" />
<line x1="386.8" y1="222.4" x2="424.2" y2="222.4" stroke="#6a6a6a" stroke-width="0.9" />
<line x1="386.8" y1="226.9" x2="424.2" y2="226.9" stroke="#6a6a6a" stroke-width="0.9" />
<line x1="386.8" y1="231.4" x2="424.2" y2="231.4" stroke="#6a6a6a" stroke-width="0.9" />
<line x1="386.8" y1="235.9" x2="424.2" y2="235.9" stroke="#6a6a6a" stroke-width="0.9" />
<line x1="386.8" y1="240.4" x2="424.2" y2="240.4" stroke="#6a6a6a" stroke-width="0.9" />
<line x1="386.8" y1="244.9" x2="424.2" y2="244.9" stroke="#6a6a6a" stroke-width="0.9" />
<line x1="386.8" y1="249.4" x2="424.2" y2="249.4" stroke="#6a6a6a" stroke-width="0.9" />
<line x1="386.8" y1="253.9" x2="424.2" y2="253.9" stroke="#6a6a6a" stroke-width="0.9" />
<path d="M388.2 222 L405.6 254.5 L423.7 222" fill="none" stroke="#6a6a6a" stroke-width="1"/>
<rect x="490.3" y="70" width="35" height="37" stroke="#6a6a6a" stroke-width="1" fill="none" />
<line x1="490.3" y1="70" x2="490.3" y2="107" stroke="#6a6a6a" stroke-width="0.9" />
<line x1="496.1333333333333" y1="70" x2="496.1333333333333" y2="107" stroke="#6a6a6a" stroke-width="0.9" />
<line x1="501.9666666666667" y1="70" x2="501.9666666666667" y2="107" stroke="#6a6a6a" stroke-width="0.9" />
<line x1="507.8" y1="70" x2="507.8" y2="107" stroke="#6a6a6a" stroke-width="0.9" />
<line x1="513.6333333333333" y1="70" x2="513.6333333333333" y2="107" stroke="#6a6a6a" stroke-width="0.9" />
<line x1="519.4666666666667" y1="70" x2="519.4666666666667" y2="107" stroke="#6a6a6a" stroke-width="0.9" />
<line x1="525.3" y1="70" x2="525.3" y2="107" stroke="#6a6a6a" stroke-width="0.9" />
<path d="M490.5 70.5 L525 88.5 L490.5 106.5" fill="none" stroke="#6a6a6a" stroke-width="1"/>
<circle cx="98.7" cy="295.2" r="9.7" fill="none" stroke="#1a1a1a" stroke-width="1.4"/>
<line x1="100.66" y1="295.59" x2="108.21" y2="297.09" stroke="#1a1a1a" stroke-width="1.05" />
<line x1="100.36" y1="296.31" x2="106.77" y2="300.59" stroke="#1a1a1a" stroke-width="1.05" />
<line x1="99.81" y1="296.86" x2="104.09" y2="303.27" stroke="#1a1a1a" stroke-width="1.05" />
<line x1="99.09" y1="297.16" x2="100.59" y2="304.71" stroke="#1a1a1a" stroke-width="1.05" />
<line x1="98.31" y1="297.16" x2="96.81" y2="304.71" stroke="#1a1a1a" stroke-width="1.05" />
<line x1="97.59" y1="296.86" x2="93.31" y2="303.27" stroke="#1a1a1a" stroke-width="1.05" />
<line x1="97.04" y1="296.31" x2="90.63" y2="300.59" stroke="#1a1a1a" stroke-width="1.05" />
<line x1="96.74" y1="295.59" x2="89.19" y2="297.09" stroke="#1a1a1a" stroke-width="1.05" />
<line x1="96.74" y1="294.81" x2="89.19" y2="293.31" stroke="#1a1a1a" stroke-width="1.05" />
<line x1="97.04" y1="294.09" x2="90.63" y2="289.81" stroke="#1a1a1a" stroke-width="1.05" />
<line x1="97.59" y1="293.54" x2="93.31" y2="287.13" stroke="#1a1a1a" stroke-width="1.05" />
<line x1="98.31" y1="293.24" x2="96.81" y2="285.69" stroke="#1a1a1a" stroke-width="1.05" />
<line x1="99.09" y1="293.24" x2="100.59" y2="285.69" stroke="#1a1a1a" stroke-width="1.05" />
<line x1="99.81" y1="293.54" x2="104.09" y2="287.13" stroke="#1a1a1a" stroke-width="1.05" />
<line x1="100.36" y1="294.09" x2="106.77" y2="289.81" stroke="#1a1a1a" stroke-width="1.05" />
<line x1="100.66" y1="294.81" x2="108.21" y2="293.31" stroke="#1a1a1a" stroke-width="1.05" />
<circle cx="98.7" cy="295.2" r="2.8" fill="#111"/>
<circle cx="271.3" cy="295.2" r="9.7" fill="none" stroke="#1a1a1a" stroke-width="1.4"/>
<line x1="273.26" y1="295.59" x2="280.81" y2="297.09" stroke="#1a1a1a" stroke-width="1.05" />
<line x1="272.96" y1="296.31" x2="279.37" y2="300.59" stroke="#1a1a1a" stroke-width="1.05" />
<line x1="272.41" y1="296.86" x2="276.69" y2="303.27" stroke="#1a1a1a" stroke-width="1.05" />
<line x1="271.69" y1="297.16" x2="273.19" y2="304.71" stroke="#1a1a1a" stroke-width="1.05" />
<line x1="270.91" y1="297.16" x2="269.41" y2="304.71" stroke="#1a1a1a" stroke-width="1.05" />
<line x1="270.19" y1="296.86" x2="265.91" y2="303.27" stroke="#1a1a1a" stroke-width="1.05" />
<line x1="269.64" y1="296.31" x2="263.23" y2="300.59" stroke="#1a1a1a" stroke-width="1.05" />
<line x1="269.34" y1="295.59" x2="261.79" y2="297.09" stroke="#1a1a1a" stroke-width="1.05" />
<line x1="269.34" y1="294.81" x2="261.79" y2="293.31" stroke="#1a1a1a" stroke-width="1.05" />
<line x1="269.64" y1="294.09" x2="263.23" y2="289.81" stroke="#1a1a1a" stroke-width="1.05" />
<line x1="270.19" y1="293.54" x2="265.91" y2="287.13" stroke="#1a1a1a" stroke-width="1.05" />
<line x1="270.91" y1="293.24" x2="269.41" y2="285.69" stroke="#1a1a1a" stroke-width="1.05" />
<line x1="271.69" y1="293.24" x2="273.19" y2="285.69" stroke="#1a1a1a" stroke-width="1.05" />
<line x1="272.41" y1="293.54" x2="276.69" y2="287.13" stroke="#1a1a1a" stroke-width="1.05" />
<line x1="272.96" y1="294.09" x2="279.37" y2="289.81" stroke="#1a1a1a" stroke-width="1.05" />
<line x1="273.26" y1="294.81" x2="280.81" y2="293.31" stroke="#1a1a1a" stroke-width="1.05" />
<circle cx="271.3" cy="295.2" r="2.8" fill="#111"/>
<circle cx="369.2" cy="295.2" r="9.7" fill="none" stroke="#1a1a1a" stroke-width="1.4"/>
<line x1="371.16" y1="295.59" x2="378.71" y2="297.09" stroke="#1a1a1a" stroke-width="1.05" />
<line x1="370.86" y1="296.31" x2="377.27" y2="300.59" stroke="#1a1a1a" stroke-width="1.05" />
<line x1="370.31" y1="296.86" x2="374.59" y2="303.27" stroke="#1a1a1a" stroke-width="1.05" />
<line x1="369.59" y1="297.16" x2="371.09" y2="304.71" stroke="#1a1a1a" stroke-width="1.05" />
<line x1="368.81" y1="297.16" x2="367.31" y2="304.71" stroke="#1a1a1a" stroke-width="1.05" />
<line x1="368.09" y1="296.86" x2="363.81" y2="303.27" stroke="#1a1a1a" stroke-width="1.05" />
<line x1="367.54" y1="296.31" x2="361.13" y2="300.59" stroke="#1a1a1a" stroke-width="1.05" />
<line x1="367.24" y1="295.59" x2="359.69" y2="297.09" stroke="#1a1a1a" stroke-width="1.05" />
<line x1="367.24" y1="294.81" x2="359.69" y2="293.31" stroke="#1a1a1a" stroke-width="1.05" />
<line x1="367.54" y1="294.09" x2="361.13" y2="289.81" stroke="#1a1a1a" stroke-width="1.05" />
<line x1="368.09" y1="293.54" x2="363.81" y2="287.13" stroke="#1a1a1a" stroke-width="1.05" />
<line x1="368.81" y1="293.24" x2="367.31" y2="285.69" stroke="#1a1a1a" stroke-width="1.05" />
<line x1="369.59" y1="293.24" x2="371.09" y2="285.69" stroke="#1a1a1a" stroke-width="1.05" />
<line x1="370.31" y1="293.54" x2="374.59" y2="287.13" stroke="#1a1a1a" stroke-width="1.05" />
<line x1="370.86" y1="294.09" x2="377.27" y2="289.81" stroke="#1a1a1a" stroke-width="1.05" />
<line x1="371.16" y1="294.81" x2="378.71" y2="293.31" stroke="#1a1a1a" stroke-width="1.05" />
<circle cx="369.2" cy="295.2" r="2.8" fill="#111"/>
<circle cx="502.3" cy="231.6" r="9.7" fill="none" stroke="#1a1a1a" stroke-width="1.4"/>
<line x1="504.26" y1="231.99" x2="511.81" y2="233.49" stroke="#1a1a1a" stroke-width="1.05" />
<line x1="503.96" y1="232.71" x2="510.37" y2="236.99" stroke="#1a1a1a" stroke-width="1.05" />
<line x1="503.41" y1="233.26" x2="507.69" y2="239.67" stroke="#1a1a1a" stroke-width="1.05" />
<line x1="502.69" y1="233.56" x2="504.19" y2="241.11" stroke="#1a1a1a" stroke-width="1.05" />
<line x1="501.91" y1="233.56" x2="500.41" y2="241.11" stroke="#1a1a1a" stroke-width="1.05" />
<line x1="501.19" y1="233.26" x2="496.91" y2="239.67" stroke="#1a1a1a" stroke-width="1.05" />
<line x1="500.64" y1="232.71" x2="494.23" y2="236.99" stroke="#1a1a1a" stroke-width="1.05" />
<line x1="500.34" y1="231.99" x2="492.79" y2="233.49" stroke="#1a1a1a" stroke-width="1.05" />
<line x1="500.34" y1="231.21" x2="492.79" y2="229.71" stroke="#1a1a1a" stroke-width="1.05" />
<line x1="500.64" y1="230.49" x2="494.23" y2="226.21" stroke="#1a1a1a" stroke-width="1.05" />
<line x1="501.19" y1="229.94" x2="496.91" y2="223.53" stroke="#1a1a1a" stroke-width="1.05" />
<line x1="501.91" y1="229.64" x2="500.41" y2="222.09" stroke="#1a1a1a" stroke-width="1.05" />
<line x1="502.69" y1="229.64" x2="504.19" y2="222.09" stroke="#1a1a1a" stroke-width="1.05" />
<line x1="503.41" y1="229.94" x2="507.69" y2="223.53" stroke="#1a1a1a" stroke-width="1.05" />
<line x1="503.96" y1="230.49" x2="510.37" y2="226.21" stroke="#1a1a1a" stroke-width="1.05" />
<line x1="504.26" y1="231.21" x2="511.81" y2="229.71" stroke="#1a1a1a" stroke-width="1.05" />
<circle cx="502.3" cy="231.6" r="2.8" fill="#111"/>
<circle cx="557.2" cy="205.5" r="9.7" fill="none" stroke="#1a1a1a" stroke-width="1.4"/>
<line x1="559.16" y1="205.89" x2="566.71" y2="207.39" stroke="#1a1a1a" stroke-width="1.05" />
<line x1="558.86" y1="206.61" x2="565.27" y2="210.89" stroke="#1a1a1a" stroke-width="1.05" />
<line x1="558.31" y1="207.16" x2="562.59" y2="213.57" stroke="#1a1a1a" stroke-width="1.05" />
<line x1="557.59" y1="207.46" x2="559.09" y2="215.01" stroke="#1a1a1a" stroke-width="1.05" />
<line x1="556.81" y1="207.46" x2="555.31" y2="215.01" stroke="#1a1a1a" stroke-width="1.05" />
<line x1="556.09" y1="207.16" x2="551.81" y2="213.57" stroke="#1a1a1a" stroke-width="1.05" />
<line x1="555.54" y1="206.61" x2="549.13" y2="210.89" stroke="#1a1a1a" stroke-width="1.05" />
<line x1="555.24" y1="205.89" x2="547.69" y2="207.39" stroke="#1a1a1a" stroke-width="1.05" />
<line x1="555.24" y1="205.11" x2="547.69" y2="203.61" stroke="#1a1a1a" stroke-width="1.05" />
<line x1="555.54" y1="204.39" x2="549.13" y2="200.11" stroke="#1a1a1a" stroke-width="1.05" />
<line x1="556.09" y1="203.84" x2="551.81" y2="197.43" stroke="#1a1a1a" stroke-width="1.05" />
<line x1="556.81" y1="203.54" x2="555.31" y2="195.99" stroke="#1a1a1a" stroke-width="1.05" />
<line x1="557.59" y1="203.54" x2="559.09" y2="195.99" stroke="#1a1a1a" stroke-width="1.05" />
<line x1="558.31" y1="203.84" x2="562.59" y2="197.43" stroke="#1a1a1a" stroke-width="1.05" />
<line x1="558.86" y1="204.39" x2="565.27" y2="200.11" stroke="#1a1a1a" stroke-width="1.05" />
<line x1="559.16" y1="205.11" x2="566.71" y2="203.61" stroke="#1a1a1a" stroke-width="1.05" />
<circle cx="557.2" cy="205.5" r="2.8" fill="#111"/>
<rect x="86" y="258.8" width="23" height="25.4" stroke="#404040" stroke-width="1.3" fill="none" />
<rect x="86" y="258.8" width="23" height="2.2" fill="#5a5a5a"/>
<rect x="88.5" y="261.3" width="10.35" height="5.588" fill="none" stroke="#888" stroke-width="0.7"/>
<ellipse cx="97.5" cy="274.548" rx="6.8999999999999995" ry="7.112" fill="none" stroke="#d8909e" stroke-width="0.8"/>
<circle cx="102.56" cy="266.42" r="3.8099999999999996" fill="none" stroke="#c8909e" stroke-width="0.7"/>
<rect x="259.1" y="260.6" width="22.2" height="22.5" stroke="#404040" stroke-width="1.3" fill="none" />
<rect x="259.1" y="260.6" width="22.2" height="2.2" fill="#5a5a5a"/>
<rect x="261.6" y="263.1" width="9.99" height="4.95" fill="none" stroke="#888" stroke-width="0.7"/>
<ellipse cx="270.20000000000005" cy="274.55" rx="6.659999999999999" ry="6.300000000000001" fill="none" stroke="#d8909e" stroke-width="0.8"/>
<circle cx="275.084" cy="267.35" r="3.375" fill="none" stroke="#c8909e" stroke-width="0.7"/>
<rect x="357.4" y="260.6" width="22" height="21.5" stroke="#404040" stroke-width="1.3" fill="none" />
<rect x="357.4" y="260.6" width="22" height="2.2" fill="#5a5a5a"/>
<rect x="359.9" y="263.1" width="9.9" height="4.73" fill="none" stroke="#888" stroke-width="0.7"/>
<ellipse cx="368.4" cy="273.93" rx="6.6" ry="6.0200000000000005" fill="none" stroke="#d8909e" stroke-width="0.8"/>
<circle cx="373.23999999999995" cy="267.05" r="3.225" fill="none" stroke="#c8909e" stroke-width="0.7"/>
<rect x="469.6" y="217.5" width="21.5" height="23.5" stroke="#404040" stroke-width="1.3" fill="none" />
<rect x="469.6" y="217.5" width="21.5" height="2.2" fill="#5a5a5a"/>
<rect x="472.1" y="220.0" width="9.675" height="5.17" fill="none" stroke="#888" stroke-width="0.7"/>
<ellipse cx="480.35" cy="232.07" rx="6.45" ry="6.580000000000001" fill="none" stroke="#d8909e" stroke-width="0.8"/>
<circle cx="485.08000000000004" cy="224.55" r="3.525" fill="none" stroke="#c8909e" stroke-width="0.7"/>
<rect x="490.5" y="191.8" width="21.5" height="24.5" stroke="#404040" stroke-width="1.3" fill="none" />
<rect x="490.5" y="191.8" width="21.5" height="2.2" fill="#5a5a5a"/>
<rect x="493.0" y="194.3" width="9.675" height="5.39" fill="none" stroke="#888" stroke-width="0.7"/>
<ellipse cx="501.25" cy="206.99" rx="6.45" ry="6.86" fill="none" stroke="#d8909e" stroke-width="0.8"/>
<circle cx="505.98" cy="199.15" r="3.675" fill="none" stroke="#c8909e" stroke-width="0.7"/>
<path d="M122.8 216.5 L122.8 208.5 A8 8 0 0 1 130.8 216.5" fill="none" stroke="#333" stroke-width="1"/>
<line x1="237.5" y1="216.8" x2="246.5" y2="216.8" stroke="#ffffff" stroke-width="2.2" />
<line x1="237.5" y1="216.4" x2="246.5" y2="216.4" stroke="#999" stroke-width="0.8" />
<path d="M246.5 216.5 L246.5 208.0 A8.5 8.5 0 0 0 238.0 216.5" fill="none" stroke="#333" stroke-width="1"/>
<line x1="335.4" y1="216.8" x2="344.4" y2="216.8" stroke="#ffffff" stroke-width="2.2" />
<line x1="335.4" y1="216.4" x2="344.4" y2="216.4" stroke="#999" stroke-width="0.8" />
<path d="M344.4 216.5 L344.4 208.0 A8.5 8.5 0 0 0 335.9 216.5" fill="none" stroke="#333" stroke-width="1"/>
<line x1="436.6" y1="216.8" x2="445.6" y2="216.8" stroke="#ffffff" stroke-width="2.2" />
<line x1="436.6" y1="216.4" x2="445.6" y2="216.4" stroke="#999" stroke-width="0.8" />
<path d="M445.6 216.5 L445.6 208.0 A8.5 8.5 0 0 0 437.1 216.5" fill="none" stroke="#333" stroke-width="1"/>
<path d="M486.5 118 L477 127.5 L486.5 127.5" fill="none" stroke="#444" stroke-width="0.9"/>
<path d="M486.5 118 A9.5 9.5 0 0 0 477 127.5" fill="none" stroke="#444" stroke-width="0.9"/>
<path d="M109 283 L109 274 A9 9 0 0 1 118 283 Z" fill="none" stroke="#555" stroke-width="0.9"/>
<path d="M259.1 281 L259.1 272 A9 9 0 0 0 249.10000000000002 281 Z" fill="none" stroke="#555" stroke-width="0.9"/>
<path d="M357.4 281 L357.4 272 A9 9 0 0 0 347.4 281 Z" fill="none" stroke="#555" stroke-width="0.9"/>
<path d="M512 216 L512 207 A9 9 0 0 1 521 216 Z" fill="none" stroke="#555" stroke-width="0.9"/>
<rect x="512" y="213.5" width="10" height="2.5" fill="#333"/>
<path d="M491 241 L491 250 A9 9 0 0 1 482 241" fill="none" stroke="#555" stroke-width="0.9"/>
<rect x="489.5" y="241" width="2.5" height="8" fill="#333"/>
<text x="134.8" y="316.5" font-size="3.6" fill="#777" text-anchor="middle" >Lot 1</text>
<text x="136.3" y="320.5" font-size="3.8" fill="#666" text-anchor="middle" >144,95 m²</text>
<text x="234" y="316.5" font-size="3.6" fill="#777" text-anchor="middle" >Lot 2</text>
<text x="235.5" y="320.5" font-size="3.8" fill="#666" text-anchor="middle" >142,36 m²</text>
<text x="332" y="316.5" font-size="3.6" fill="#777" text-anchor="middle" >Lot 3</text>
<text x="333.5" y="320.5" font-size="3.8" fill="#666" text-anchor="middle" >144,77 m²</text>
<text x="518.5" y="316.5" font-size="3.6" fill="#777" text-anchor="middle" >Lot 4</text>
<text x="520.0" y="320.5" font-size="3.8" fill="#666" text-anchor="middle" >404,72 m²</text>
<text x="567" y="138.5" font-size="3.6" fill="#777" text-anchor="middle" >Lot 5</text>
<text x="568" y="143" font-size="3.8" fill="#666" text-anchor="middle" >257,78 m²</text>
<text x="314.8" y="19.9" font-size="14.6" font-weight="bold" fill="#111" textLength="74.3" lengthAdjust="spacingAndGlyphs">PLAN RDC :</text>
<line x1="314.5" y1="22.6" x2="389.5" y2="22.6" stroke="#111" stroke-width="1.1" />
</g>
</svg>
</body></html>
